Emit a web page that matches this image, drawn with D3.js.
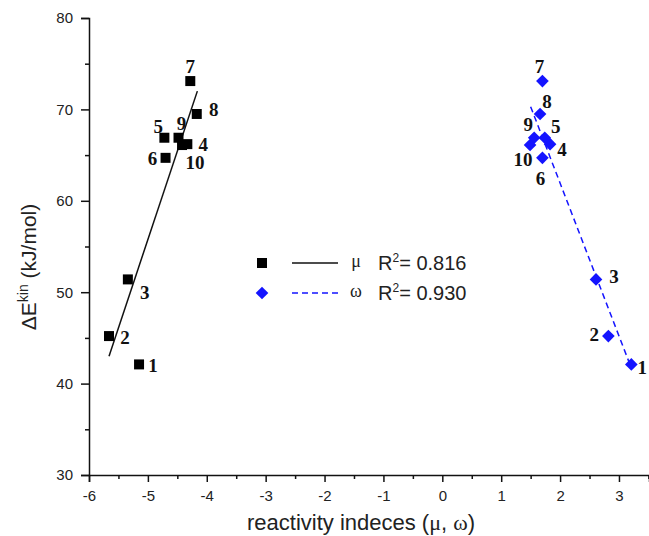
<!DOCTYPE html>
<html>
<head>
<meta charset="utf-8">
<script src="https://cdn.jsdelivr.net/npm/d3@7"></script>
<style>
  body { margin: 0; background: #fff; }
  svg { display: block; }
  .tick text { font-family: "Liberation Sans", Arial, sans-serif; font-size: 15px; fill: #222; }
  .ptlabel { font-family: "Liberation Serif", "Times New Roman", serif; font-weight: bold; font-size: 19px; fill: #111; }
</style>
</head>
<body>
<svg id="chart"></svg>
<script>
// Data
const pointIds = ["1", "2", "3", "4", "5", "6", "7", "8", "9", "10"];
const energy = [42.1, 45.2, 51.4, 66.2, 66.9, 64.7, 73.1, 69.5, 66.9, 66.1];
const muValues = [-5.15, -5.66, -5.34, -4.33, -4.72, -4.70, -4.28, -4.17, -4.48, -4.42];
const omegaValues = [3.21, 2.82, 2.61, 1.83, 1.74, 1.70, 1.70, 1.66, 1.56, 1.49];

// Fitted lines (end points)
const muFitX = [-5.66, -4.16];
const muFitY = [43.0, 72.0];
const omegaFitX = [1.50, 3.21];
const omegaFitY = [70.3, 41.7];

const legendNames = ["\u03bc", "\u03c9"];
const legendR2 = ["0.816", "0.930"];

const xMajor = [-6, -5, -4, -3, -2, -1, 0, 1, 2, 3];
const xMinor = [-5.5, -4.5, -3.5, -2.5, -1.5, -0.5, 0.5, 1.5, 2.5, 3.5];
const yMajor = [30, 40, 50, 60, 70, 80];
const yMinor = [35, 45, 55, 65, 75];

// Label placement (pixel offsets from each marker)
const muLabelOffsets = [[14, 1], [16, 1], [17, 13], [16, 0], [-6, -11], [-13, 1], [0, -15], [17, -4], [3, -14], [13, 17]];
const omegaLabelOffsets = [[11, 3], [-14, -2], [18, -3], [12, 5], [11, -11], [-2, 21], [-3, -15], [7, -12], [-6, -13], [-7, 14]];

const width = 649;
const height = 536;

const svg = d3.select("#chart")
    .attr("width", width)
    .attr("height", height);

const x = d3.scaleLinear().domain([-6, 3.51]).range([89, 649]);
const y = d3.scaleLinear().domain([30, 80]).range([475, 18]);

const fmt = d => String(d);

// Axes
const xAxis = svg.append("g").attr("transform", `translate(0,${y(30)})`);
xAxis.call(d3.axisBottom(x).tickValues(xMajor).tickSize(7).tickPadding(8).tickFormat(fmt));
xAxis.append("g").call(d3.axisBottom(x).tickValues(xMinor).tickSize(4).tickFormat(""))
    .select(".domain").remove();

const yAxis = svg.append("g").attr("transform", `translate(${x(-6)},0)`);
yAxis.call(d3.axisLeft(y).tickValues(yMajor).tickSize(8).tickPadding(8).tickFormat(fmt));
yAxis.append("g").call(d3.axisLeft(y).tickValues(yMinor).tickSize(4).tickFormat(""))
    .select(".domain").remove();

svg.selectAll(".domain").attr("stroke", "#111").attr("stroke-width", 1.5);
svg.selectAll(".tick line").attr("stroke", "#111").attr("stroke-width", 1.5);

// Axis titles
const xTitle = svg.append("text")
    .attr("x", 361).attr("y", 530)
    .attr("text-anchor", "middle")
    .style("font-family", "Liberation Sans, Arial, sans-serif")
    .style("font-size", "22px").style("fill", "#222");
xTitle.append("tspan").text("reactivity indeces (");
xTitle.append("tspan").style("font-family", "Liberation Serif, serif").text("\u03bc");
xTitle.append("tspan").text(", ");
xTitle.append("tspan").style("font-family", "Liberation Serif, serif").text("\u03c9");
xTitle.append("tspan").text(")");

const yTitle = svg.append("text")
    .attr("transform", "translate(36,267) rotate(-90)")
    .attr("text-anchor", "middle")
    .style("font-family", "Liberation Sans, Arial, sans-serif")
    .style("font-size", "21px").style("fill", "#222");
yTitle.append("tspan").text("\u0394E");
yTitle.append("tspan").attr("dy", -8).style("font-size", "14px").text("kin");
yTitle.append("tspan").attr("dy", 8).text(" (kJ/mol)");

// Fit lines
const line = d3.line().x(d => x(d[0])).y(d => y(d[1]));
svg.append("path")
    .datum(d3.zip(muFitX, muFitY))
    .attr("d", line)
    .attr("fill", "none").attr("stroke", "#111").attr("stroke-width", 1.5);
svg.append("path")
    .datum(d3.zip(omegaFitX, omegaFitY))
    .attr("d", line)
    .attr("fill", "none").attr("stroke", "#1414ff").attr("stroke-width", 1.5)
    .attr("stroke-dasharray", "6,4");

// Markers
const squareSym = d3.symbol().type(d3.symbolSquare).size(100);
const diamondSym = d3.symbol().type(d3.symbolSquare).size(80);

const muData = pointIds.map((id, i) => ({ id, x: muValues[i], y: energy[i], off: muLabelOffsets[i] }));
const omData = pointIds.map((id, i) => ({ id, x: omegaValues[i], y: energy[i], off: omegaLabelOffsets[i] }));

svg.selectAll(".mu").data(muData).enter().append("path")
    .attr("class", "mu")
    .attr("d", squareSym)
    .attr("transform", d => `translate(${x(d.x)},${y(d.y)})`)
    .attr("fill", "#000");

svg.selectAll(".om").data(omData).enter().append("path")
    .attr("class", "om")
    .attr("d", diamondSym)
    .attr("transform", d => `translate(${x(d.x)},${y(d.y)}) rotate(45)`)
    .attr("fill", "#1414ff");

// Point labels
function addLabels(data) {
    svg.selectAll(null).data(data).enter().append("text")
        .attr("class", "ptlabel")
        .attr("x", d => x(d.x) + d.off[0])
        .attr("y", d => y(d.y) + d.off[1])
        .attr("text-anchor", "middle")
        .attr("dominant-baseline", "central")
        .text(d => d.id);
}
addLabels(muData);
addLabels(omData);

// Legend
const legend = svg.append("g");
const legendRows = [263, 293];
legendRows.forEach((ly, i) => {
    const g = legend.append("g").attr("transform", `translate(0,${ly})`);
    if (i === 0) {
        g.append("path").attr("d", squareSym).attr("transform", "translate(262,0)").attr("fill", "#000");
        g.append("line").attr("x1", 292).attr("x2", 338).attr("stroke", "#111").attr("stroke-width", 1.5);
    } else {
        g.append("path").attr("d", diamondSym).attr("transform", "translate(262,0) rotate(45)").attr("fill", "#1414ff");
        g.append("line").attr("x1", 292).attr("x2", 338).attr("stroke", "#1414ff").attr("stroke-width", 1.5)
            .attr("stroke-dasharray", "6,4");
    }
    g.append("text").attr("x", 356).attr("y", 4)
        .attr("text-anchor", "middle")
        .style("font-family", "Liberation Serif, serif").style("font-size", "18px").style("fill", "#222")
        .text(legendNames[i]);
    const t = g.append("text").attr("x", 378).attr("y", 7)
        .style("font-family", "Liberation Sans, Arial, sans-serif").style("font-size", "20px").style("fill", "#222");
    t.append("tspan").text("R");
    t.append("tspan").attr("dy", -8).style("font-size", "12px").text("2");
    t.append("tspan").attr("dy", 8).text("= " + legendR2[i]);
});
</script>
</body>
</html>
